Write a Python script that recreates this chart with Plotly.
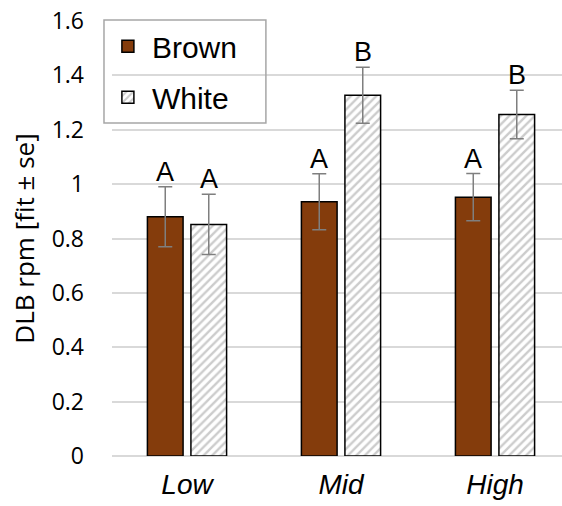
import plotly.graph_objects as go

categories = ["Low", "Mid", "High"]
brown_vals = [0.88, 0.935, 0.952]
brown_se = [0.11, 0.103, 0.087]
white_vals = [0.852, 1.327, 1.256]
white_se = [0.111, 0.103, 0.089]
brown_letters = ["A", "A", "A"]
white_letters = ["A", "B", "B"]
y_ticks = [0, 0.2, 0.4, 0.6, 0.8, 1, 1.2, 1.4, 1.6]

BARGAP = 0.435
GROUPGAP = 0.18

fig = go.Figure()
fig.add_trace(go.Bar(
    name="Brown", x=categories, y=brown_vals, legendgroup="b",
    marker=dict(color="#843C0C", line=dict(color="black", width=1.5)),
    error_y=dict(type="data", array=brown_se, color="#7f7f7f", thickness=1.5, width=7),
))
fig.add_trace(go.Bar(
    name="White", x=categories, y=white_vals, legendgroup="w",
    marker=dict(color="white", line=dict(color="black", width=1.5),
                pattern=dict(shape="/", fgcolor="#9a9a9a", bgcolor="white", size=6, solidity=0.4)),
    error_y=dict(type="data", array=white_se, color="#7f7f7f", thickness=1.5, width=7),
))

slot = (1 - BARGAP) / 2
annotations = []
for i in range(len(categories)):
    for off, vals, se, letters in [(-slot / 2, brown_vals, brown_se, brown_letters),
                                   (slot / 2, white_vals, white_se, white_letters)]:
        annotations.append(dict(
            x=i + off, y=vals[i] + se[i], xref="x", yref="y", text=letters[i],
            showarrow=False, yanchor="bottom", yshift=-2,
            font=dict(family="Liberation Sans, Arial", size=27, color="black"),
        ))

# legend frame
fig.add_shape(type="rect", xref="paper", yref="paper",
              x0=-0.0178, x1=0.342, y0=0.7655, y1=1.0023,
              line=dict(color="#a6a6a6", width=1.5), fillcolor="rgba(0,0,0,0)", layer="above")

fig.update_layout(
    width=562, height=506,
    margin=dict(l=112, r=0, t=21, b=50),
    paper_bgcolor="white", plot_bgcolor="white",
    barmode="group", bargap=BARGAP, bargroupgap=GROUPGAP,
    showlegend=True,
    legend=dict(x=-0.018, y=1.002, xanchor="left", yanchor="top",
                bgcolor="rgba(255,255,255,0)", borderwidth=0,
                font=dict(family="Liberation Sans, Arial", size=30, color="black"),
                tracegroupgap=9, itemwidth=38),
    annotations=annotations,
    xaxis=dict(type="category", range=[-0.487, 2.435], showgrid=False, automargin=False,
               tickfont=dict(family="Liberation Sans, Arial", size=28, color="black", style="italic"),
               ticks="", showline=False, ticklabelstandoff=9),
    yaxis=dict(range=[0, 1.6001], tickvals=y_ticks, ticktext=[f"{v:g}" for v in y_ticks],
               automargin=False, ticklabeloverflow="allow",
               showgrid=True, gridcolor="#d9d9d9", gridwidth=1.5,
               zeroline=True, zerolinecolor="#d9d9d9", zerolinewidth=1.5,
               tickfont=dict(family="Open Sans, Lato", size=23, color="black"),
               ticklabelstandoff=27,
               title=dict(text="DLB rpm [fit ± se]", standoff=9,
                          font=dict(family="Open Sans, Lato", size=26, color="black"))),
)

fig.write_html("out.html", config={"displayModeBar": False},
               post_script="document.body.style.margin='0';document.body.style.overflow='hidden';")
